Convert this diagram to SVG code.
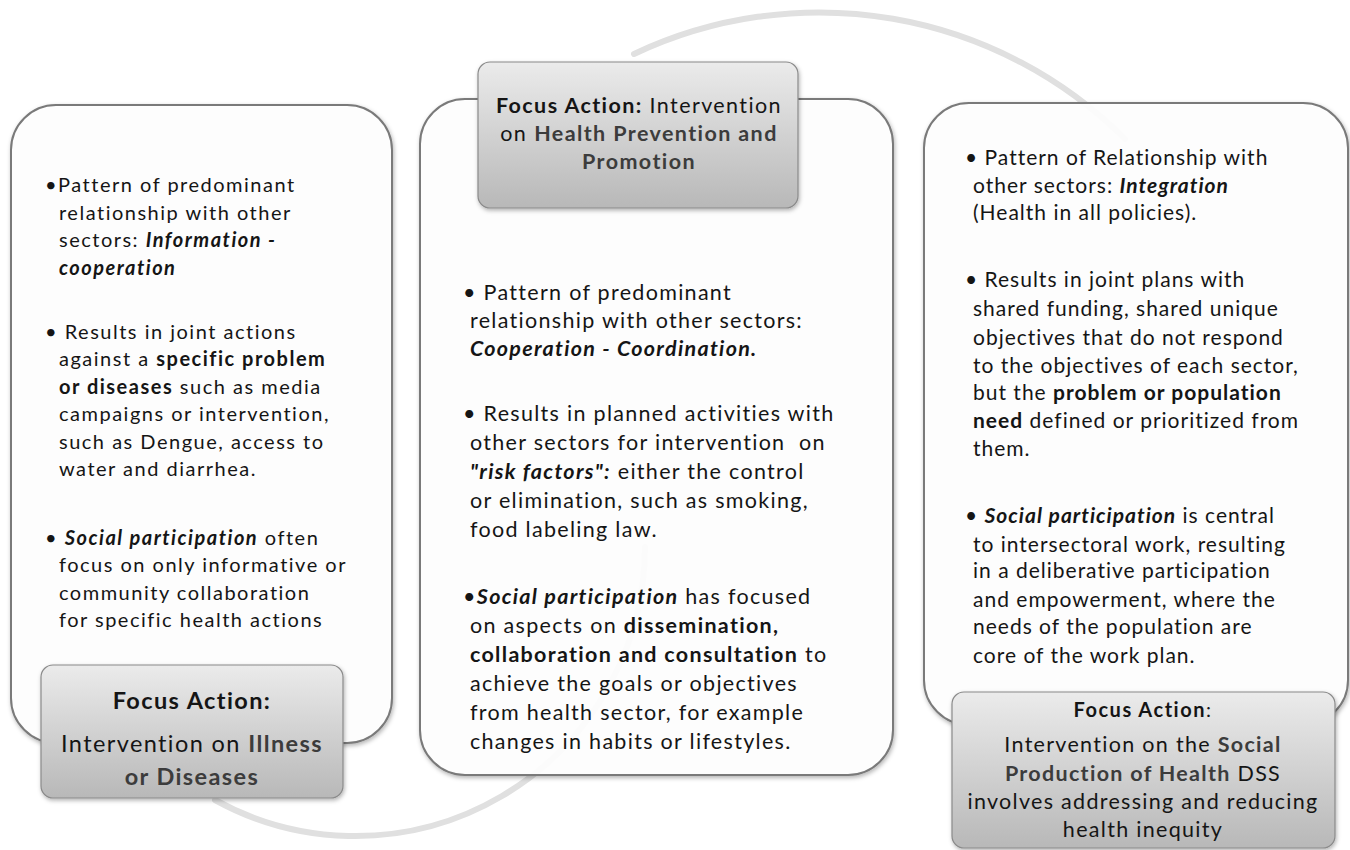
<svg xmlns="http://www.w3.org/2000/svg" width="1350" height="850" viewBox="0 0 1350 850">
  <defs>
    <linearGradient id="focusFill" x1="0" y1="0" x2="0" y2="1">
      <stop offset="0" stop-color="#ebebeb"/>
      <stop offset="1" stop-color="#b8b8b8"/>
    </linearGradient>
    <filter id="softShadow" x="-10%" y="-10%" width="120%" height="120%">
      <feDropShadow dx="1" dy="2" stdDeviation="2" flood-color="#000" flood-opacity="0.3"/>
    </filter>
    <style>
      text { font-family: Lato, "Liberation Sans", sans-serif; fill: #151515; white-space: pre; }
      .panel { fill: #ffffff; fill-opacity: 0.93; stroke: #7a7a7a; stroke-width: 2; filter: url(#softShadow); }
      .focus { fill: url(#focusFill); stroke: #8a8a8a; stroke-width: 1.2; filter: url(#softShadow); }
      .ring { fill: none; stroke: #e0e0e0; stroke-width: 6; stroke-linecap: round; }
      .left text { font-size: 20px; letter-spacing: 1.5px; }
      .mid text { font-size: 21.5px; letter-spacing: 1.3px; }
      .right text { font-size: 21px; letter-spacing: 1px; }
      .f { text-anchor: middle; }
      .fl text { font-size: 23.5px; letter-spacing: 1.4px; }
      .fm text { font-size: 21.5px; letter-spacing: 1.4px; }
      .fr text { font-size: 21.5px; letter-spacing: 1.3px; }
      .b { font-weight: bold; }
      .bi { font-weight: bold; font-style: italic; }
      .g { font-weight: bold; fill: #3c3c3c; }
    </style>
  </defs>

  <!-- faint circular sweep behind the panels -->
  <g id="connectors">
    <path class="ring" d="M 634 54 A 433 433 0 0 1 1125 139"/>
    <path class="ring" d="M 215 800 A 290 290 0 0 0 645 547"/>
  </g>

  <!-- left panel: illness or diseases -->
  <g id="panel-illness" class="left">
    <rect class="panel" x="11" y="105" width="381" height="638" rx="45" ry="45"/>
    <text x="45" y="192">•Pattern of predominant</text>
    <text x="59" y="220">relationship with other</text>
    <text x="59" y="247">sectors: <tspan class="bi">Information -</tspan></text>
    <text x="59" y="275" class="bi">cooperation</text>
    <text x="45" y="339">• Results in joint actions</text>
    <text x="59" y="366">against a <tspan class="b">specific problem</tspan></text>
    <text x="59" y="394"><tspan class="b">or diseases</tspan> such as media</text>
    <text x="59" y="421">campaigns or intervention,</text>
    <text x="59" y="449">such as Dengue, access to</text>
    <text x="59" y="476">water and diarrhea.</text>
    <text x="45" y="545">• <tspan class="bi">Social participation</tspan> often</text>
    <text x="59" y="572">focus on only informative or</text>
    <text x="59" y="600">community collaboration</text>
    <text x="59" y="627">for specific health actions</text>
  </g>

  <!-- centre panel: prevention and promotion -->
  <g id="panel-prevention" class="mid">
    <rect class="panel" x="420" y="99" width="473" height="676" rx="45" ry="45"/>
    <text x="463" y="300">• Pattern of predominant</text>
    <text x="470" y="328">relationship with other sectors:</text>
    <text x="470" y="356" class="bi">Cooperation - Coordination.</text>
    <text x="463" y="421">• Results in planned activities with</text>
    <text x="470" y="450">other sectors for intervention  on</text>
    <text x="470" y="479"><tspan class="bi">"risk factors":</tspan> either the control</text>
    <text x="470" y="508">or elimination, such as smoking,</text>
    <text x="470" y="537">food labeling law.</text>
    <text x="463" y="604">•<tspan class="bi">Social participation</tspan> has focused</text>
    <text x="470" y="633">on aspects on <tspan class="b">dissemination,</tspan></text>
    <text x="470" y="662"><tspan class="b">collaboration and consultation</tspan> to</text>
    <text x="470" y="691">achieve the goals or objectives</text>
    <text x="470" y="720">from health sector, for example</text>
    <text x="470" y="749">changes in habits or lifestyles.</text>
  </g>

  <!-- right panel: social production of health -->
  <g id="panel-social" class="right">
    <rect class="panel" x="924" y="103" width="424" height="622" rx="45" ry="45"/>
    <text x="965" y="165">• Pattern of Relationship with</text>
    <text x="973" y="193">other sectors: <tspan class="bi">Integration</tspan></text>
    <text x="973" y="220">(Health in all policies).</text>
    <text x="965" y="287">• Results in joint plans with</text>
    <text x="973" y="316">shared funding, shared unique</text>
    <text x="973" y="345">objectives that do not respond</text>
    <text x="973" y="373">to the objectives of each sector,</text>
    <text x="973" y="400">but the <tspan class="b">problem or population</tspan></text>
    <text x="973" y="428"><tspan class="b">need</tspan> defined or prioritized from</text>
    <text x="973" y="456">them.</text>
    <text x="965" y="523">• <tspan class="bi">Social participation</tspan> is central</text>
    <text x="973" y="552">to intersectoral work, resulting</text>
    <text x="973" y="578">in a deliberative participation</text>
    <text x="973" y="607">and empowerment, where the</text>
    <text x="973" y="634">needs of the population are</text>
    <text x="973" y="663">core of the work plan.</text>
  </g>

  <!-- focus action labels -->
  <g id="focus-illness" class="fl">
    <rect class="focus" x="41" y="665" width="302" height="133" rx="12" ry="12"/>
    <text class="f b" x="192" y="709">Focus Action:</text>
    <text class="f" x="192" y="752">Intervention on <tspan class="g">Illness</tspan></text>
    <text class="f g" x="192" y="785">or Diseases</text>
  </g>

  <g id="focus-prevention" class="fm">
    <rect class="focus" x="478" y="62" width="320" height="146" rx="12" ry="12"/>
    <text class="f" x="639" y="113"><tspan class="b">Focus Action:</tspan> Intervention</text>
    <text class="f" x="639" y="141">on <tspan class="g">Health Prevention and</tspan></text>
    <text class="f g" x="639" y="169">Promotion</text>
  </g>

  <g id="focus-social" class="fr">
    <rect class="focus" x="952" y="692" width="383" height="156" rx="12" ry="12"/>
    <text class="f" x="1143" y="717" style="font-size:20px;letter-spacing:1.5px"><tspan class="b">Focus Action</tspan>:</text>
    <text class="f" x="1143" y="752">Intervention on the <tspan class="g">Social</tspan></text>
    <text class="f" x="1143" y="781"><tspan class="g">Production of Health</tspan> DSS</text>
    <text class="f" x="1143" y="809">involves addressing and reducing</text>
    <text class="f" x="1143" y="837">health inequity</text>
  </g>
</svg>
